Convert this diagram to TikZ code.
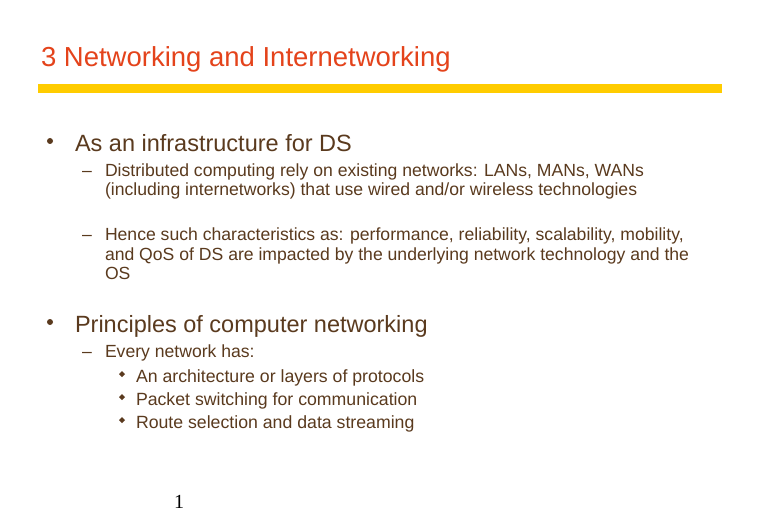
\documentclass[tikz,border=0pt]{standalone}
\usepackage{fontspec}
\setmainfont{Liberation Sans}
\newfontfamily\serifpn{Liberation Serif}
\definecolor{titlecol}{HTML}{E4431B}
\definecolor{barcol}{HTML}{FFCC00}
\definecolor{txtcol}{HTML}{5A3A1E}
\begin{document}
\begin{tikzpicture}[x=1pt,y=-1pt,
  every node/.style={inner sep=0pt,outer sep=0pt,anchor=base west,text=txtcol},
  lvlone/.style={font=\fontsize{23.5}{28}\selectfont},
  lvltwo/.style={font=\fontsize{17.6}{20}\selectfont},
  lvlthree/.style={font=\fontsize{17.7}{20}\selectfont},
]
\useasboundingbox[fill=white] (0,0) rectangle (768,532);
\node[font=\fontsize{27.5}{30}\selectfont,text=titlecol] (title) at (41,67) {3 Networking and Internetworking};
\fill[barcol] (38,84) rectangle (722,93);
\fill[txtcol] (50,141) circle (3);
\node[lvlone] (t1) at (75,151) {As an infrastructure for DS};
\node[lvltwo] (d1) at (82,176) {–};
\node[lvltwo] (t11a) at (105,176) {Distributed computing rely on existing networks: LANs, MANs, WANs};
\node[lvltwo] (t11b) at (105,195) {(including internetworks) that use wired and/or wireless technologies};
\node[lvltwo] (d2) at (82,240) {–};
\node[lvltwo] (t12a) at (105,240) {Hence such characteristics as: performance, reliability, scalability, mobility,};
\node[lvltwo] (t12b) at (105,260) {and QoS of DS are impacted by the underlying network technology and the};
\node[lvltwo] (t12c) at (105,279) {OS};
\fill[txtcol] (50,322) circle (3);
\node[lvlone] (t2) at (75,332) {Principles of computer networking};
\node[lvltwo] (d3) at (82,357) {–};
\node[lvltwo] (t21) at (105,357) {Every network has:};
\fill[txtcol] (122,371) -- (125,374) -- (122,377) -- (119,374) -- cycle;
\node[lvlthree] (t211) at (136,382) {An architecture or layers of protocols};
\fill[txtcol] (122,394) -- (125,397) -- (122,400) -- (119,397) -- cycle;
\node[lvlthree] (t212) at (136,405) {Packet switching for communication};
\fill[txtcol] (122,417) -- (125,420) -- (122,423) -- (119,420) -- cycle;
\node[lvlthree] (t213) at (136,428) {Route selection and data streaming};
\node[font=\serifpn\fontsize{20}{24}\selectfont,text=black] (pg) at (174,508) {1};
\end{tikzpicture}
\end{document}
